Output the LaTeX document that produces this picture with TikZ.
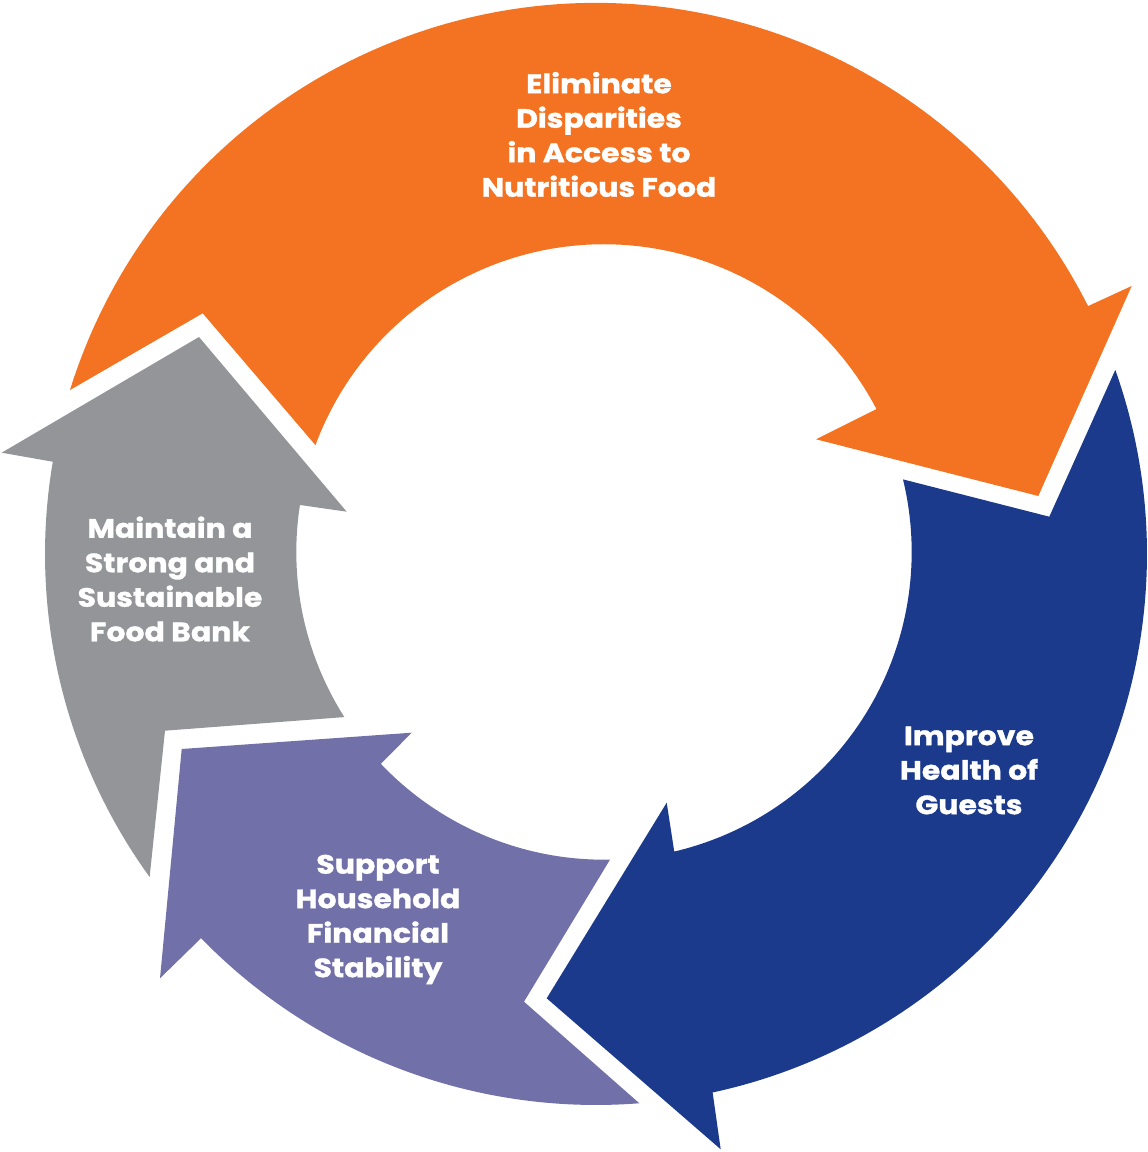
\documentclass[tikz,border=0pt]{standalone}
\usepackage{fontspec}
\newfontfamily\lblfont{Poppins}[FakeStretch=1.13, FakeBold=1.2]
\definecolor{orangeC}{HTML}{F37322}
\definecolor{blueC}{HTML}{1C3A8C}
\definecolor{purpleC}{HTML}{7170A9}
\definecolor{grayC}{HTML}{939598}
\tikzset{
  lbl/.style={text=white, inner sep=0pt, align=center,
    font=\lblfont\bfseries\fontsize{26.5}{34.5}\selectfont},
}
\begin{document}
\begin{tikzpicture}[x=1pt,y=1pt]
\useasboundingbox (0,0) rectangle (1148,1152);
\coordinate (Co) at (596,598);
\coordinate (Ci) at (604,600);
\def\Ro{551}
\def\Ri{307.7}
% orange
\fill[orangeC] ([shift={(Co)}]162.69:\Ro) arc[start angle=162.69,end angle=26.74,radius=\Ro]
  -- (1131.7,866) -- (1038.3,656) -- (816,712.7)
  -- ([shift={(Ci)}]27.68:\Ri) arc[start angle=27.68,end angle=159.68,radius=\Ri]
  -- (202.7,838.7) -- cycle;
% blue
\fill[blueC] ([shift={(Co)}]19.52:\Ro) arc[start angle=19.52,end angle=-77.78,radius=\Ro]
  -- (720.7,2.7) -- (546.7,153.7) -- (666.7,349.3)
  -- ([shift={(Ci)}]-76.8:\Ri) arc[start angle=-76.8,end angle=13.65,radius=\Ri]
  -- (1049.3,635.3) -- cycle;
% purple
\fill[purpleC] ([shift={(Co)}]-85.49:\Ro) arc[start angle=-85.49,end angle=-135.79,radius=\Ro]
  -- (160,173.7) -- (181.7,403) -- (411.7,419.3)
  -- ([shift={(Ci)}]223.51:\Ri) arc[start angle=223.51,end angle=271.12,radius=\Ri]
  -- (524,150.3) -- cycle;
% gray
\fill[grayC] ([shift={(Co)}]215.89:\Ro) arc[start angle=215.89,end angle=170.36,radius=\Ro]
  -- (1.7,699.3) -- (199,815) -- (346.7,640.3)
  -- ([shift={(Ci)}]171.21:\Ri) arc[start angle=171.21,end angle=212.45,radius=\Ri]
  -- (165,421.3) -- cycle;
% labels
\node[lbl] (t1) at (599,1017.5) {Eliminate\\Disparities\\in Access to\\Nutritious Food};
\node[lbl] (t2) at (969,381.5) {Improve\\Health of\\Guests};
\node[lbl] (t3) at (378,232.5) {Support\\Household\\Financial\\Stability};
\node[lbl] (t4) at (170,573) {Maintain a\\Strong and\\Sustainable\\Food Bank};
\end{tikzpicture}
\end{document}
